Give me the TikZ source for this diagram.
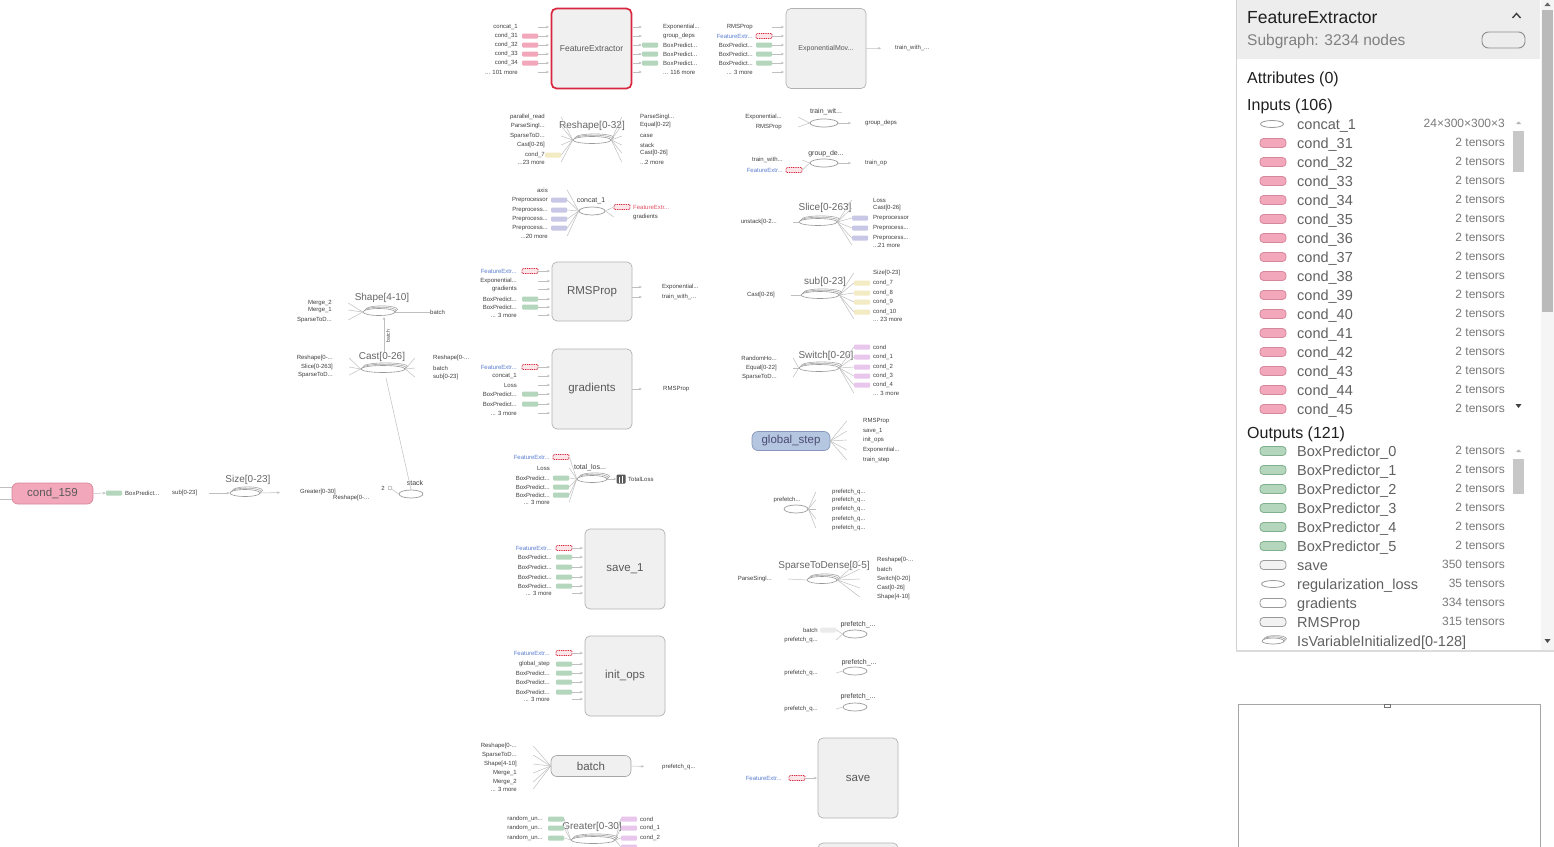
\documentclass[tikz,border=0pt]{standalone}
\usepackage{fontspec}
\setmainfont{Liberation Sans}
\usetikzlibrary{shapes.geometric,shadows,arrows.meta}
\definecolor{redc}{HTML}{D9263F}
\definecolor{feblue}{HTML}{5B7FD0}
\definecolor{pinkc}{HTML}{F2A7BA}
\definecolor{pinkd}{HTML}{D6879C}
\definecolor{greenc}{HTML}{B3D6BC}
\definecolor{greend}{HTML}{7FAF8C}
\definecolor{purplec}{HTML}{C9C7E6}
\definecolor{yellowc}{HTML}{F3EBC3}
\definecolor{magc}{HTML}{E9C6EC}
\definecolor{gsfill}{HTML}{B5C6E0}
\definecolor{gsdraw}{HTML}{8796BA}
\definecolor{boxg}{HTML}{F0F0F0}
\newcommand\dd{...}
\newcommand\fe{\textcolor{feblue}{FeatureExtr...}}
\newcommand\fer{\textcolor{redc!80}{FeatureExtr...}}
\newcommand\inbox[5]{\foreach \yy/\lab/\st [count=\ci] in {#5}{%
  \node[lbl,anchor=east] (#1l\ci) at (#2,\yy) {\lab};
  \node[\st] (#1i\ci) at (#3,\yy) {};
  \coordinate (#1t\ci) at (#4,\yy);
  \draw[arr] (#1i\ci.east) -- (#1t\ci);}}
\newcommand\infan[5]{\foreach \yy/\lab/\st [count=\ci] in {#5}{%
  \node[lbl,anchor=east] (#1l\ci) at (#2,\yy) {\lab};
  \node[\st] (#1i\ci) at (#3,\yy) {};
  \draw[edge] (#1i\ci.east) -- (#4);}}
\newcommand\outbox[5]{\foreach \yy/\lab/\st [count=\ci] in {#5}{%
  \coordinate (#1s\ci) at (#4,\yy);
  \node[\st] (#1i\ci) at (#3,\yy) {};
  \node[lbl,anchor=west] (#1l\ci) at (#2,\yy) {\lab};
  \draw[arr] (#1s\ci) -- (#1i\ci.west);}}
\newcommand\outfan[5]{\foreach \yy/\lab/\st [count=\ci] in {#5}{%
  \node[\st] (#1i\ci) at (#3,\yy) {};
  \node[lbl,anchor=west] (#1l\ci) at (#2,\yy) {\lab};
  \draw[edge] (#4) -- (#1i\ci.west);}}
\tikzset{
  lbl/.style={font=\fontsize{6}{6}\selectfont, text=black!75, inner sep=0pt},
  ttl/.style={font=\fontsize{10}{10}\selectfont, text=black!60, inner sep=0pt},
  opbox/.style={draw=black!30, fill=boxg, rounded corners=5pt, minimum width=80pt, minimum height=80pt, inner sep=0pt, font=\fontsize{11.5}{12}\selectfont, text=black!65, line width=0.7pt},
  pill/.style={draw=black!35, fill=boxg, rounded corners=6pt, minimum width=80pt, minimum height=21pt, inner sep=0pt, font=\fontsize{11.5}{12}\selectfont, text=black!65, line width=0.7pt},
  ic/.style={minimum width=16pt, minimum height=5pt, inner sep=0pt, rounded corners=1pt},
  pk/.style={ic, fill=pinkc},
  gr/.style={ic, fill=greenc},
  pu/.style={ic, fill=purplec},
  ye/.style={ic, fill=yellowc},
  mg/.style={ic, fill=magc},
  gy/.style={ic, fill=black!8},
  rd/.style={ic, draw=redc, fill=redc!12, line width=0.8pt, dash pattern=on 1pt off 0.8pt},
  nn/.style={ic},
  edge/.style={draw=black!25, line width=0.5pt},
  arr/.style={edge, -{Stealth[length=3pt,width=2.5pt]}},
  ser/.style={ellipse, draw=black!40, fill=white, minimum width=#1, minimum height=7pt, inner sep=0pt, line width=0.6pt,
    double copy shadow={shadow xshift=1.3pt, shadow yshift=1.3pt, draw=black!35, fill=white}},
  sing/.style={ellipse, draw=black!40, fill=white, minimum width=#1, minimum height=8pt, inner sep=0pt, line width=0.7pt},
  pname/.style={anchor=base west, font=\fontsize{14.5}{15}\selectfont, text=black!62, inner sep=0pt},
  pval/.style={anchor=base east, font=\fontsize{12}{12}\selectfont, text=black!52, inner sep=0pt},
  phead/.style={anchor=base west, font=\fontsize{16}{16}\selectfont, text=black!88, inner sep=0pt},
  picon/.style={rounded corners=3.5pt, minimum width=26pt, minimum height=9pt, inner sep=0pt, line width=0.8pt},
  ogr/.style={picon, fill=greenc, draw=greend},
  osv/.style={picon, fill=black!5, draw=black!40},
  oel/.style={ellipse, draw=black!40, minimum width=23pt, minimum height=7pt, inner sep=0pt, line width=0.8pt},
  owh/.style={picon, fill=white, draw=black!40},
  oser/.style={ellipse, draw=black!40, fill=white, minimum width=22pt, minimum height=6pt, inner sep=0pt, line width=0.7pt,
    double copy shadow={shadow xshift=1.2pt, shadow yshift=1.2pt, draw=black!35, fill=white}},
}
\begin{document}
\begin{tikzpicture}[x=1pt,y=-1pt]
\useasboundingbox (0,0) rectangle (1554,846);
\clip (0,0) rectangle (1554,846);
\fill[white] (0,0) rectangle (1554,846);

% ---------- FeatureExtractor
\node[opbox, draw=redc, line width=1.7pt, font=\fontsize{8.5}{8.5}\selectfont] (fe) at (591.5,48.5) {FeatureExtractor};
\inbox{fei}{518}{530}{549}{27/concat\_1/nn,36/cond\_31/pk,45/cond\_32/pk,54/cond\_33/pk,63/cond\_34/pk,72/{\dd} 101 more/nn}
\outbox{feo}{663}{650}{633}{27/Exponential\dd/nn,36/group\_deps/nn,45/BoxPredict\dd/gr,54/BoxPredict\dd/gr,63/BoxPredict\dd/gr,72/{\dd} 116 more/nn}

% ---------- ExponentialMovingAverage
\node[opbox, font=\fontsize{7}{7}\selectfont] (ema) at (826,48.5) {ExponentialMov...};
\inbox{emi}{753}{764}{784}{27/RMSProp/nn,36/\fe/rd,45/BoxPredict\dd/gr,54/BoxPredict\dd/gr,63/BoxPredict\dd/gr,72/{\dd} 3 more/nn}
\node[lbl,anchor=west] (emo) at (895,48) {train\_with\_...};
\draw[arr, shorten >=14pt] (ema.east) -- (emo.west);

% ---------- Reshape
\node[ttl] (rst) at (592,126) {Reshape[0-32]};
\node[ser=38pt] (rs) at (592,140) {};
\infan{rsi}{545}{553}{rs.west}{117/parallel\_read/nn,126/ParseSingl\dd/nn,136/SparseToD\dd/nn,145/Cast[0-26]/nn,155/cond\_7/ye,162/{\dd}23 more/nn}
\outfan{rso}{640}{630}{rs.east}{117/ParseSingl\dd/nn,125/Equal[0-22]/nn,136/case/nn,145/stack/nn,153/Cast[0-26]/nn,162/{\dd}2 more/nn}

% ---------- train_with
\node[lbl, font=\fontsize{7}{7}\selectfont] (twt) at (826,112) {train\_wit...};
\node[sing=28pt] (tw) at (824,123) {};
\infan{twi}{782}{790}{tw.west}{117/Exponential\dd/nn,127/RMSProp/nn}
\node[lbl,anchor=west] (two) at (865,123) {group\_deps};
\draw[arr, shorten >=14pt] (tw.east) -- (two.west);

% ---------- group_deps
\node[lbl, font=\fontsize{7}{7}\selectfont] (gdt) at (826,154) {group\_de...};
\node[sing=28pt] (gd) at (824,163) {};
\infan{gdi}{783}{794}{gd.west}{160/train\_with\dd/nn,170/\fe/rd}
\node[lbl,anchor=west] (gdo) at (865,163) {train\_op};
\draw[arr, shorten >=14pt] (gd.east) -- (gdo.west);

% ---------- concat_1
\node[lbl, font=\fontsize{7}{7}\selectfont] (cct) at (591,201) {concat\_1};
\node[sing=26pt] (cc) at (592,211) {};
\infan{cci}{548}{559}{cc.west}{190/axis/nn,200/Preprocessor/pu,210/Preprocess\dd/pu,219/Preprocess\dd/pu,228/Preprocess\dd/pu,236/{\dd}20 more/nn}
\outfan{cco}{633}{622}{cc.east}{207/\fer/rd,217/gradients/nn}

% ---------- Slice
\node[ttl] (slt) at (825,208) {Slice[0-263]};
\node[ser=38pt] (sl) at (818,222) {};
\infan{sli}{777}{785}{sl.west}{222/unstack[0-2\dd/nn}
\outfan{slo}{873}{860}{sl.east}{200/Loss/nn,208/Cast[0-26]/nn,218/Preprocessor/pu,228/Preprocess\dd/pu,238/Preprocess\dd/pu,245/{\dd}21 more/nn}

% ---------- Shape / Cast
\node[ttl] (sht) at (382,298) {Shape[4-10]};
\node[ser=32pt] (sh) at (379,312) {};
\infan{shi}{332}{340}{sh.west}{303/Merge\_2/nn,310/Merge\_1/nn,320/SparseToD\dd/nn}
\node[lbl,anchor=west] (sho) at (430,312) {batch};
\draw[edge] (sh.east) -- (sho.west);
\node[ttl] (cat) at (382,357) {Cast[0-26]};
\node[ser=44pt] (ca) at (383,369) {};
\infan{cai}{333}{341}{ca.west}{358/Reshape[0-\dd/nn,367/Slice[0-263]/nn,375/SparseToD\dd/nn}
\outfan{cao}{433}{423}{ca.east}{358/Reshape[0-\dd/nn,368/batch/nn,377/sub[0-23]/nn}
\coordinate (cau) at (384,352);
\coordinate (shd) at (384,317);
\draw[arr] (cau) -- (shd);
\node[lbl, rotate=90, font=\fontsize{5}{5}\selectfont] (bl) at (388,336) {batch};

% ---------- RMSProp
\node[opbox, minimum height=59pt] (rms) at (592,291.5) {RMSProp};
\inbox{rmi}{517}{530}{550}{271/\fe/rd,281/Exponential\dd/nn,289/gradients/nn,299/BoxPredict\dd/gr,307/BoxPredict\dd/gr,315/{\dd} 3 more/nn}
\outbox{rmo}{662}{650}{632}{287/Exponential\dd/nn,297/train\_with\_\dd/nn}

% ---------- gradients
\node[opbox] (grd) at (592,389) {gradients};
\inbox{gri}{517}{530}{550}{367/\fe/rd,376/concat\_1/nn,385/Loss/nn,394/BoxPredict\dd/gr,404/BoxPredict\dd/gr,413/{\dd} 3 more/nn}
\outbox{gro}{663}{650}{632}{389/RMSProp/nn}

% ---------- sub
\node[ttl] (sut) at (825,282) {sub[0-23]};
\node[ser=38pt] (su) at (820,295) {};
\infan{sui}{775}{783}{su.west}{295/Cast[0-26]/nn}
\outfan{suo}{873}{862}{su.east}{273/Size[0-23]/nn,283/cond\_7/ye,293/cond\_8/ye,302/cond\_9/ye,312/cond\_10/ye,319/{\dd} 23 more/nn}

% ---------- Switch
\node[ttl] (swt) at (826,356) {Switch[0-20]};
\node[ser=40pt] (sw) at (819,368) {};
\infan{swi}{777}{785}{sw.west}{358/RandomHo\dd/nn,368/Equal[0-22]/nn,377/SparseToD\dd/nn}
\outfan{swo}{873}{862}{sw.east}{347/cond/mg,357/cond\_1/mg,367/cond\_2/mg,376/cond\_3/mg,385/cond\_4/mg,393/{\dd} 3 more/nn}

% ---------- global_step
\node[pill, fill=gsfill, draw=gsdraw, minimum width=78pt, minimum height=19pt, text=black!60!blue!40!gray] (gs) at (791,441) {global\_step};
\outfan{gso}{863}{855}{gs.east}{421/RMSProp/nn,431/save\_1/nn,440/init\_ops/nn,450/Exponential\dd/nn,460/train\_step/nn}

% ---------- cond_159 chain
\node[pill, fill=pinkc, draw=pinkd, minimum width=81pt] (c159) at (52.5,493.5) {cond\_159};
\coordinate (cl1) at (0,487);
\coordinate (cl2) at (0,499);
\draw[edge] (cl1) -- (c159.west |- cl1);
\draw[edge] (cl2) -- (c159.west |- cl2);
\node[gr] (c159g) at (114,493) {};
\draw[arr] (c159.east) -- (c159g.west);
\node[lbl,anchor=west] (c159b) at (125,493) {BoxPredict...};
\node[lbl,anchor=west] (c159s) at (172,493) {sub[0-23]};
\node[ttl] (szt) at (248,480) {Size[0-23]};
\node[ser=30pt] (sz) at (245,493) {};
\draw[arr, shorten <=12pt] (c159s.east) -- (sz.west);
\node[lbl,anchor=west] (szg) at (300,492) {Greater[0-30]};
\node[lbl,anchor=west] (szr) at (333,498) {Reshape[0-...};
\draw[arr, shorten >=20pt] (sz.east) -- (szg.west);
\node[lbl, font=\fontsize{7}{7}\selectfont] (stt) at (415,483) {stack};
\node[sing=24pt] (st) at (411,494) {};
\node[lbl] (st2) at (383,488) {2};
\node[circle, draw=black!40, minimum size=4pt, inner sep=0pt] (st2c) at (390,488) {};
\draw[edge] (st2c) -- (st.west);
\coordinate (cad) at (386,378);
\draw[edge] (cad) -- (st.north);

% ---------- total_loss
\node[lbl, font=\fontsize{7}{7}\selectfont] (tlt) at (590,468) {total\_los...};
\node[ser=30pt] (tl) at (592,479) {};
\infan{tli}{550}{561}{tl.west}{457/\fe/rd,468/Loss/nn,478/BoxPredict\dd/gr,487/BoxPredict\dd/gr,495/BoxPredict\dd/gr,502/{\dd} 3 more/nn}
\node[fill=black!65, minimum size=9pt, inner sep=0pt, rounded corners=1pt] (tlic) at (621,479) {};
\draw[white, line width=1pt] (619,482.5) -- (619,477) (622,482.5) -- (622,475.5);
\draw[arr] (tl.east) -- (tlic.west);
\node[lbl,anchor=west] (tlo) at (628,479) {TotalLoss};

% ---------- prefetch (row 5)
\node[lbl] (pft) at (787,500) {prefetch...};
\node[sing=24pt] (pf) at (796,509) {};
\outfan{pfo}{832}{824}{pf.east}{492/prefetch\_q\dd/nn,500/prefetch\_q\dd/nn,509/prefetch\_q\dd/nn,519/prefetch\_q\dd/nn,528/prefetch\_q\dd/nn}

% ---------- save_1
\node[opbox] (sv1) at (625,569) {save\_1};
\inbox{s1i}{552}{564}{583}{548/\fe/rd,557/BoxPredict\dd/gr,567/BoxPredict\dd/gr,577/BoxPredict\dd/gr,586/BoxPredict\dd/gr,593/{\dd} 3 more/nn}

% ---------- SparseToDense
\node[ttl] (spt) at (824,566) {SparseToDense[0-5]};
\node[ser=30pt] (sp) at (822,580) {};
\infan{spi}{772}{780}{sp.west}{579/ParseSingl\dd/nn}
\outfan{spo}{877}{868}{sp.east}{560/Reshape[0-\dd/nn,569/batch/nn,579/Switch[0-20]/nn,588/Cast[0-26]/nn,597/Shape[4-10]/nn}

% ---------- init_ops
\node[opbox] (io) at (625,676) {init\_ops};
\inbox{ioi}{550}{564}{583}{653/\fe/rd,664/global\_step/gr,673/BoxPredict\dd/gr,682/BoxPredict\dd/gr,692/BoxPredict\dd/gr,699/{\dd} 3 more/nn}

% ---------- prefetch a, b, c
\node[lbl, font=\fontsize{7}{7}\selectfont] (pat) at (858,625) {prefetch\_...};
\node[sing=24pt] (pa) at (855,634) {};
\infan{pai}{818}{828}{pa.west}{630/batch/gy,640/prefetch\_q\dd/nn}
\node[lbl, font=\fontsize{7}{7}\selectfont] (pbt) at (859,663) {prefetch\_...};
\node[sing=24pt] (pb) at (855,671) {};
\infan{pbi}{818}{828}{pb.west}{673/prefetch\_q\dd/nn}
\node[lbl, font=\fontsize{7}{7}\selectfont] (pct) at (858,697) {prefetch\_...};
\node[sing=24pt] (pc) at (855,707) {};
\infan{pci}{818}{828}{pc.west}{709/prefetch\_q\dd/nn}

% ---------- batch
\node[pill] (bt) at (591,766) {batch};
\infan{bti}{517}{525}{bt.west}{746/Reshape[0-\dd/nn,755/SparseToD\dd/nn,764/Shape[4-10]/nn,773/Merge\_1/nn,782/Merge\_2/nn,789/{\dd} 3 more/nn}
\node[lbl,anchor=west] (bto) at (662,767) {prefetch\_q...};
\draw[arr, shorten >=18pt] (bt.east) -- (bto.west);

% ---------- save
\node[opbox] (sv) at (858,778) {save};
\inbox{svi}{782}{797}{817}{778/\fe/rd}

% ---------- Greater
\node[ttl] (gtt) at (592,827) {Greater[0-30]};
\node[ser=44pt] (gt) at (593,840) {};
\infan{gti}{543}{556}{gt.west}{819/random\_un\dd/gr,828/random\_un\dd/gr,838/random\_un\dd/gr}
\outfan{gto}{640}{629}{gt.east}{819/cond/mg,828/cond\_1/mg,838/cond\_2/mg}
\node[mg] (gto4) at (629,847) {};
\draw[edge] (gt.east) -- (gto4.west);

% ---------- box cut at bottom
\node[opbox] (bb) at (858,883) {};

% ================= right panel
\begin{scope}
\clip (1236,0) rectangle (1540,650);
\fill[white] (1236,0) rectangle (1540,650);
\fill[black!7] (1236,0) rectangle (1540,59);
\node[anchor=base west, font=\fontsize{17.5}{18}\selectfont, text=black!88, inner sep=0pt] (ptitle) at (1247,23) {FeatureExtractor};
\draw[black!75, line width=1.4pt] (1512.5,18) -- (1516.5,13.5) -- (1520.5,18);
\node[anchor=base west, font=\fontsize{15.5}{16}\selectfont, text=black!50, inner sep=0pt] (psub) at (1247,45) {Subgraph: 3234 nodes};
\node[draw=black!45, rounded corners=6.5pt, minimum width=43pt, minimum height=16pt, line width=0.9pt, inner sep=0pt] (ptog) at (1503.5,40) {};
\node[phead] (pattr) at (1247,83) {Attributes (0)};
\node[phead] (pin) at (1247,110) {Inputs (106)};
\node[phead] (pout) at (1247,438) {Outputs (121)};
% inputs
\node[oel] (pic0) at (1272,124) {};
\node[pname] (pn0) at (1297,129) {concat\_1};
\node[pval] (pv0) at (1505,127) {24×300×300×3};
\foreach \i [count=\c from 0] in {31,32,33,34,35,36,37,38,39,40,41,42,43,44,45}{
  \node[picon, fill=pinkc, draw=pinkd] (pic\i) at (1273,143+19*\c) {};
  \node[pname] (pn\i) at (1297,148+19*\c) {cond\_\i};
  \node[pval] (pv\i) at (1505,146+19*\c) {2 tensors};
}
% outputs
\foreach \nm/\st/\vl [count=\c from 0] in {BoxPredictor\_0/ogr/2 tensors,BoxPredictor\_1/ogr/2 tensors,BoxPredictor\_2/ogr/2 tensors,BoxPredictor\_3/ogr/2 tensors,BoxPredictor\_4/ogr/2 tensors,BoxPredictor\_5/ogr/2 tensors,save/osv/350 tensors,regularization\_loss/oel/35 tensors,gradients/owh/334 tensors,RMSProp/osv/315 tensors,IsVariableInitialized[0-128]/oser/{}}{
  \node[\st] (poc\c) at (1273,451+19*\c) {};
  \node[pname] (pon\c) at (1297,456+19*\c) {\nm};
  \node[pval] (pov\c) at (1505,454+19*\c) {\vl};
}
% inner scrollbars
\fill[black!22] (1513,131) rectangle (1524,172);
\fill[black!22] (1513,459) rectangle (1524,494);
\fill[black!30] (1516,124) -- (1521,124) -- (1518.5,121.5) -- cycle;
\fill[black!75] (1515.5,404) -- (1521.5,404) -- (1518.5,408) -- cycle;
\fill[black!30] (1516,452) -- (1521,452) -- (1518.5,449.5) -- cycle;
\end{scope}
\draw[black!18] (1236,0) -- (1236,650);
\fill[black!14] (1236,650) rectangle (1554,652);
% outer scrollbar
\fill[black!4] (1541,0) rectangle (1554,650);
\fill[black!27] (1542,10) rectangle (1553,312);
\fill[black!60] (1544.5,6) -- (1550.5,6) -- (1547.5,2.5) -- cycle;
\fill[black!70] (1544.5,639) -- (1550.5,639) -- (1547.5,643) -- cycle;
% minimap
\draw[black!35, fill=white, line width=0.8pt] (1238,704) rectangle (1540,860);
\draw[black!55, line width=0.6pt] (1384,704) rectangle (1390,707);
\end{tikzpicture}
\end{document}
